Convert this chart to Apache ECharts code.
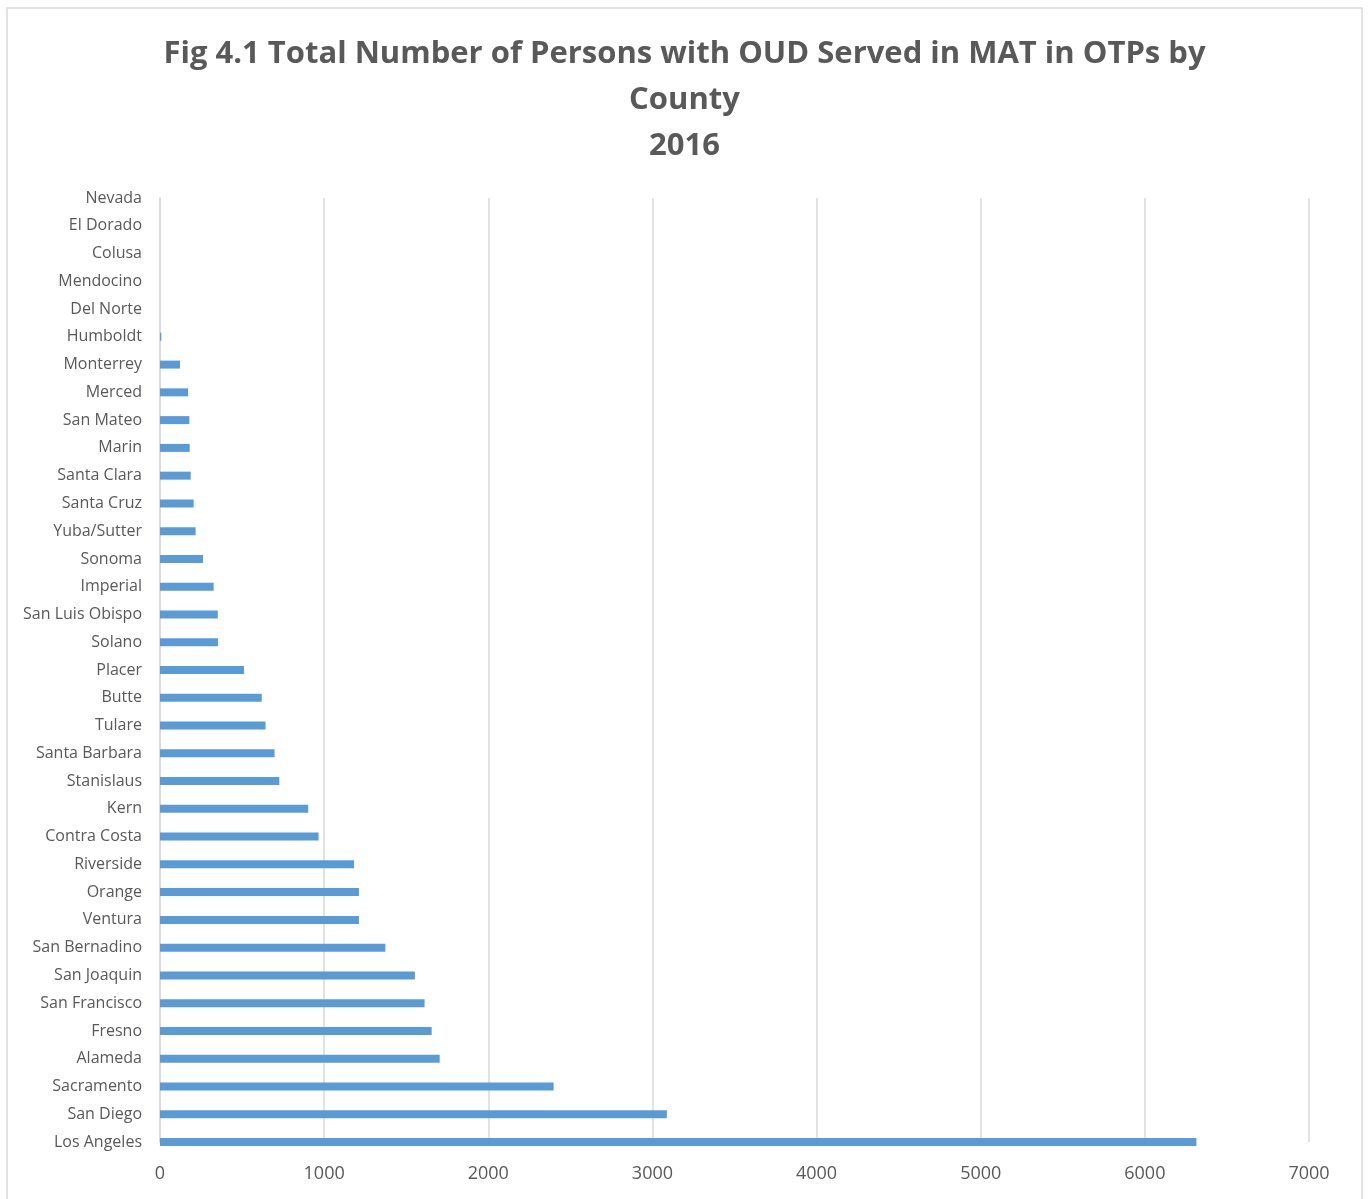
<!DOCTYPE html>
<html>
<head>
<meta charset="utf-8">
<title>Fig 4.1</title>
<script src="https://cdn.jsdelivr.net/npm/echarts@6/dist/echarts.min.js"></script>
<style>
    html, body { margin: 0; padding: 0; background: #fff; }
    #main { width: 1369px; height: 1199px; }
</style>
</head>
<body>
<div id="main"></div>
<script>
// counties, bottom to top (Los Angeles first, as on the category axis)
var counties = ['Los Angeles', 'San Diego', 'Sacramento', 'Alameda', 'Fresno', 'San Francisco',
    'San Joaquin', 'San Bernadino', 'Ventura', 'Orange', 'Riverside', 'Contra Costa', 'Kern',
    'Stanislaus', 'Santa Barbara', 'Tulare', 'Butte', 'Placer', 'Solano', 'San Luis Obispo',
    'Imperial', 'Sonoma', 'Yuba/Sutter', 'Santa Cruz', 'Santa Clara', 'Marin', 'San Mateo',
    'Merced', 'Monterrey', 'Humboldt', 'Del Norte', 'Mendocino', 'Colusa', 'El Dorado', 'Nevada'];

var persons = [6314, 3088, 2398, 1704, 1655, 1612,
    1553, 1373, 1212, 1212, 1182, 966, 903,
    727, 698, 643, 620, 512, 353, 352,
    327, 262, 217, 205, 187, 181, 179,
    171, 122, 8, 0, 0, 0, 0, 0];

var xTicks = [0, 1000, 2000, 3000, 4000, 5000, 6000, 7000];

var chart = echarts.init(document.getElementById('main'));

var option = {
    backgroundColor: '#fff',
    animation: false,
    title: {
        text: 'Fig 4.1 Total Number of Persons with OUD Served in MAT in OTPs by\nCounty\n2016',
        left: 'center',
        top: 26,
        textStyle: {
            fontFamily: 'Open Sans',
            fontWeight: 'bold',
            fontSize: 31,
            lineHeight: 46,
            color: '#595959'
        }
    },
    graphic: [{
        type: 'rect',
        shape: { x: 7, y: 8, width: 1355, height: 1210 },
        style: { fill: 'none', stroke: '#d9d9d9', lineWidth: 1.5 },
        silent: true
    }],
    grid: {
        left: 160,
        right: 60,
        top: 198,
        bottom: 57,
        containLabel: false
    },
    xAxis: {
        type: 'value',
        min: xTicks[0],
        max: xTicks[xTicks.length - 1],
        interval: 1000,
        axisLine: { show: false },
        axisTick: { show: false },
        axisLabel: {
            margin: 23,
            fontFamily: 'Open Sans',
            fontSize: 18,
            color: '#595959',
            formatter: function (v) { return String(v); }
        },
        splitLine: { lineStyle: { color: '#d9d9d9', width: 1.5 } }
    },
    yAxis: {
        type: 'category',
        data: counties,
        boundaryGap: false,
        axisLine: { show: true, lineStyle: { color: '#d9d9d9', width: 1.5 } },
        axisTick: { show: false },
        axisLabel: {
            margin: 18,
            fontFamily: 'Open Sans',
            fontSize: 16,
            color: '#595959',
            interval: 0
        },
        splitLine: { show: false }
    },
    series: [{
        name: 'Persons',
        type: 'bar',
        data: persons,
        barWidth: 8,
        clip: true,
        itemStyle: { color: '#5b9bd5' }
    }]
};

chart.setOption(option);
</script>
</body>
</html>
